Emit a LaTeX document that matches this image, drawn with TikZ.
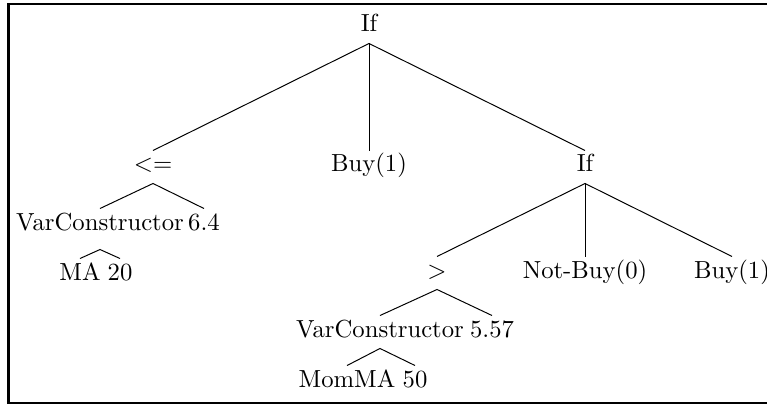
\documentclass[tikz,border=0pt]{standalone}
\begin{document}
\begin{tikzpicture}[x=0.405pt,y=-0.405pt,
  tn/.style={anchor=base,inner xsep=0pt,inner ysep=0pt,text height=8.5pt,text depth=4.45pt},
  deep/.style={text depth=7.7pt},
  edge/.style={line width=0.4pt},
  frame/.style={line width=1.2pt}]
\useasboundingbox (0,0) rectangle (767,405);
\draw[frame] (767,4) -- (8.5,4) -- (8.5,403) -- (767,403);
% level 0
\node[tn] (T) at (369,32) {If};
% level 1
\node[tn] (le) at (153,172) {$<=$};
\node[tn] (buyA) at (369,172) {Buy(1)};
\node[tn] (ifR) at (585,172) {If};
% left subtree
\node[tn,deep] (vc1) at (100,230) {VarConstructor};
\node[tn] (n64) at (204,230) {6.4};
\node[tn] (ma) at (80,280) {MA};
\node[tn] (n20) at (120,280) {20};
% right subtree
\node[tn] (gt) at (437,278) {$>$};
\node[tn] (nb) at (585,278) {Not-Buy(0)};
\node[tn] (buyB) at (732,278) {Buy(1)};
\node[tn] (vc2) at (380,337) {VarConstructor};
\node[tn] (n557) at (492,337) {5.57};
\node[tn] (mom) at (347,387) {MomMA};
\node[tn] (n50) at (415,387) {50};
% connectors
\draw[edge] (le.north) -- (T.south) -- (ifR.north);
\draw[edge] (T.south) -- (buyA.north);
\draw[edge] (vc1.north) -- (le.south) -- (n64.north);
\draw[edge] (ma.north) -- (vc1.south) -- (n20.north);
\draw[edge] (gt.north) -- (ifR.south) -- (buyB.north);
\draw[edge] (ifR.south) -- (nb.north);
\draw[edge] (vc2.north) -- (gt.south) -- (n557.north);
\draw[edge] (mom.north) -- (vc2.south) -- (n50.north);
\end{tikzpicture}
\end{document}
